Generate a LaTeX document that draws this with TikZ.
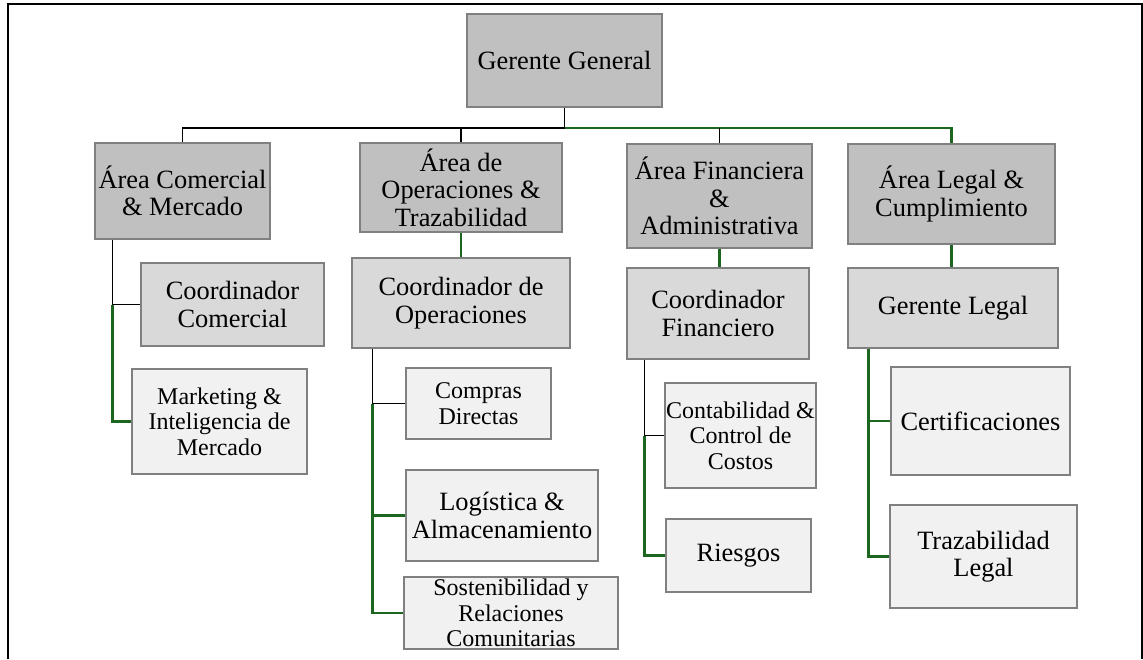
\documentclass[tikz,border=0pt]{standalone}
\usepackage{fontspec}
\setmainfont{Liberation Serif}
\usepackage{tikz}
\usepackage{xcolor}
\definecolor{boxedge}{RGB}{128, 128, 128}
\definecolor{headgray}{RGB}{192, 192, 192}
\definecolor{midgray}{RGB}{217, 217, 217}
\definecolor{lightgray}{RGB}{241, 241, 241}
\definecolor{linkgreen}{RGB}{28, 102, 32}

\begin{document}
\begin{tikzpicture}[
            x=1pt, y=-1pt,
            box/.style={
                rectangle,
                draw=boxedge,
                fill=#1,
                line width=1.4pt,
                align=center,
                inner sep=0pt
            },
            big/.style={font=\fontsize{26.4}{27.5}\selectfont},
            small/.style={font=\fontsize{24}{25.5}\selectfont},
            blackline/.style={draw=black, line width=1.5pt},
            greenline/.style={draw=linkgreen, line width=2.4pt}
        ]

            \useasboundingbox (0,0) rectangle (1143,659);

            % Frame
            \draw[line width=1.6pt] (8,659) -- (8,4) -- (1142,4) -- (1142,659);

            % Nodes
            \node[box=headgray, big, minimum width=195pt, minimum height=93pt] (gerente) at (564.5,60.5) {Gerente General};

            \node[box=headgray, big, minimum width=175pt, minimum height=96pt] (comercial) at (182.5,191) {Área Comercial\\ \& Mercado};
            \node[box=headgray, big, minimum width=202pt, minimum height=89pt] (operaciones) at (461,187.5) {Área de\\ Operaciones \&\\ Trazabilidad};
            \node[box=headgray, big, minimum width=185pt, minimum height=104pt] (financiera) at (719.5,196) {Área Financiera\\ \&\\ Administrativa};
            \node[box=headgray, big, minimum width=207pt, minimum height=100pt] (legal) at (951.5,194) {Área Legal \&\\ Cumplimiento};

            \node[box=midgray, big, minimum width=183pt, minimum height=83pt] (coordcom) at (232.5,304.5) {Coordinador\\ Comercial};
            \node[box=lightgray, small, minimum width=175pt, minimum height=105pt] (marketing) at (219.5,421.5) {Marketing \&\\ Inteligencia de\\ Mercado};

            \node[box=midgray, big, minimum width=218pt, minimum height=90pt] (coordop) at (461,303) {Coordinador de\\ Operaciones};
            \node[box=lightgray, small, minimum width=145pt, minimum height=71pt] (compras) at (478.5,403.5) {Compras\\ Directas};
            \node[box=lightgray, big, minimum width=192pt, minimum height=91pt] (logistica) at (502,515.5) {Logística \&\\ Almacenamiento};
            \node[box=lightgray, small, minimum width=214pt, minimum height=72pt] (sosten) at (511,613) {Sostenibilidad y\\ Relaciones\\ Comunitarias};

            \node[box=midgray, big, minimum width=182pt, minimum height=91pt] (coordfin) at (718,313.5) {Coordinador\\ Financiero};
            \node[box=lightgray, small, minimum width=151pt, minimum height=105pt] (contab) at (740.5,435.5) {Contabilidad \&\\ Control de\\ Costos};
            \node[box=lightgray, big, minimum width=145pt, minimum height=73pt] (riesgos) at (738.5,555.5) {Riesgos};

            \node[box=midgray, big, minimum width=210pt, minimum height=80pt] (gerlegal) at (953,308) {Gerente Legal};
            \node[box=lightgray, big, minimum width=179pt, minimum height=108pt] (certif) at (980.5,421) {Certificaciones};
            \node[box=lightgray, big, minimum width=187pt, minimum height=103pt] (trazleg) at (983.5,556.5) {Trazabilidad\\ Legal};

            % Lines
            \coordinate (bus) at (gerente.south |- 0,128);
            \draw[blackline] (gerente.south) -- (bus) -| (comercial.north);
            \draw[greenline] (bus) -| (legal.north);
            \draw[blackline] (operaciones.north |- bus) -- (operaciones.north);
            \draw[blackline] (financiera.north |- bus) -- (financiera.north);

            \coordinate (comrail) at ([xshift=18pt]comercial.south west);
            \draw[blackline] (comrail) |- (coordcom.west);
            \draw[greenline] (comrail |- coordcom.west) |- (marketing.west);

            \draw[greenline] (operaciones.south) -- (coordop.north);
            \coordinate (oprail) at ([xshift=21pt]coordop.south west);
            \draw[blackline] (oprail) |- (compras.west);
            \draw[greenline] (oprail |- compras.west) |- (sosten.west);
            \draw[greenline] (oprail |- logistica.west) -- (logistica.west);

            \draw[greenline] (financiera.south) -- (financiera.south |- coordfin.north);
            \coordinate (finrail) at ([xshift=18pt]coordfin.south west);
            \draw[blackline] (finrail) |- (contab.west);
            \draw[greenline] (finrail |- contab.west) |- (riesgos.west);

            \draw[greenline] (legal.south) -- (legal.south |- gerlegal.north);
            \coordinate (legrail) at ([xshift=21pt]gerlegal.south west);
            \draw[greenline] (legrail) |- (certif.west);
            \draw[greenline] (legrail |- certif.west) |- (trazleg.west);
        \end{tikzpicture}
\end{document}
